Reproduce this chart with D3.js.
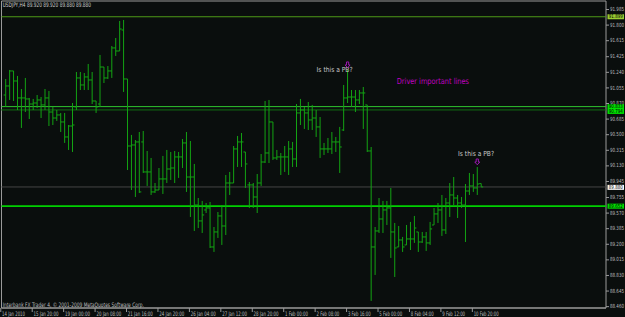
<html>
<head>
<meta charset="utf-8">
<title>USDJPY,H4</title>
<style>
  body { margin: 0; background: #0a0e0d; overflow: hidden; }
  text { font-family: "DejaVu Sans", "Liberation Sans", sans-serif; }
</style>
</head>
<body>
<script src="https://cdn.jsdelivr.net/npm/d3@7/dist/d3.min.js"></script>
<script>
// USDJPY H4 bars, 14 Jan 2010 16:00 .. 10 Feb 2010
var opens = [90.971,91.078,91.256,91.137,90.936,90.936,90.924,90.864,90.876,90.912,90.853,90.936,90.769,90.698,90.734,90.651,90.473,90.603,90.829,91.173,
  91.090,91.185,91.149,90.900,90.864,91.303,91.173,91.256,91.529,91.493,91.742,91.161,90.366,90.378,90.414,90.414,90.058,90.058,89.821,89.844,
  89.975,89.975,90.093,90.105,90.236,90.236,90.402,89.998,89.998,89.666,89.477,89.607,89.631,89.168,89.346,89.536,89.417,89.927,89.927,90.331,
  90.414,90.295,89.904,89.904,89.761,89.927,90.176,90.283,90.651,90.224,90.236,90.236,90.236,90.331,90.212,90.758,90.793,90.758,90.675,90.698,
  90.592,90.331,90.331,90.331,90.414,90.414,90.556,90.936,90.947,90.947,90.912,90.995,90.853,90.307,89.168,89.358,89.500,89.607,89.631,89.346,
  89.168,89.251,89.192,89.263,89.263,89.346,89.227,89.287,89.216,89.429,89.560,89.607,89.370,89.690,89.785,89.749,89.690,89.666,89.832,89.892,
  89.868,89.920];
var highs = [91.161,91.268,91.256,91.197,91.042,91.173,90.936,90.924,90.971,90.947,91.042,91.019,90.829,90.793,90.758,90.758,90.615,90.876,91.244,91.244,
  91.232,91.339,91.244,90.900,91.446,91.303,91.315,91.552,91.647,91.849,91.861,91.161,90.497,90.437,90.532,90.544,90.307,90.224,89.927,90.105,
  90.248,90.319,90.295,90.307,90.295,90.449,90.532,90.425,90.153,89.749,89.714,89.690,89.702,89.405,89.583,89.666,90.022,90.058,90.366,90.485,
  90.520,90.295,89.939,89.927,90.034,90.271,90.900,90.912,90.651,90.319,90.283,90.366,90.425,90.414,90.864,90.924,90.829,90.888,90.853,90.793,
  90.710,90.402,90.461,90.532,90.473,90.592,91.090,91.268,91.030,91.030,91.030,91.066,90.853,90.354,89.405,89.749,89.714,89.714,89.868,89.453,
  89.417,89.287,89.429,89.465,89.536,89.346,89.346,89.346,89.465,89.631,89.690,89.785,89.749,89.927,89.998,89.785,89.761,89.915,90.046,90.034,
  90.117,89.920];
var lows = [90.829,90.912,90.900,90.793,90.580,90.769,90.686,90.793,90.817,90.698,90.793,90.603,90.615,90.663,90.532,90.402,90.319,90.295,90.793,91.030,
  91.030,91.030,90.864,90.758,90.829,91.113,91.161,91.173,91.434,91.493,91.007,90.081,89.844,89.761,89.809,90.046,89.892,89.785,89.809,89.844,
  89.797,89.927,89.963,89.927,89.987,90.105,89.821,89.524,89.358,89.393,89.334,89.571,89.156,89.109,89.275,89.192,89.310,89.785,89.927,90.117,
  90.117,89.868,89.631,89.631,89.571,89.892,90.164,90.164,90.200,90.200,90.022,90.058,90.022,90.117,90.117,90.615,90.568,90.556,90.556,90.473,
  90.224,90.259,90.283,90.271,90.295,90.046,90.544,90.876,90.829,90.769,90.864,90.568,90.295,88.528,88.836,89.334,89.334,89.429,89.038,88.812,
  89.168,89.109,89.192,89.132,89.216,89.109,89.216,89.121,89.192,89.429,89.453,89.299,89.322,89.524,89.666,89.512,89.631,89.227,89.785,89.821,
  89.785,89.880];
var closes = [91.078,91.256,91.137,90.936,90.936,90.924,90.864,90.876,90.912,90.853,90.936,90.769,90.698,90.734,90.651,90.473,90.603,90.615,91.173,91.090,
  91.185,91.149,90.900,90.829,91.303,91.173,91.256,91.529,91.493,91.754,91.161,90.366,90.378,90.414,89.821,90.058,90.058,89.821,89.844,89.975,
  89.975,90.093,90.105,90.236,90.236,90.402,89.998,89.998,89.666,89.477,89.548,89.631,89.168,89.346,89.536,89.417,89.927,89.927,90.331,90.414,
  90.414,90.153,89.904,89.761,89.927,90.176,90.283,90.651,90.224,90.236,90.236,90.236,90.331,90.212,90.758,90.793,90.758,90.675,90.698,90.592,
  90.331,90.331,90.331,90.414,90.414,90.354,90.936,90.947,90.947,90.912,90.995,90.995,90.307,89.168,89.358,89.500,89.607,89.631,89.346,89.156,
  89.251,89.168,89.263,89.263,89.393,89.227,89.287,89.216,89.382,89.560,89.607,89.370,89.690,89.785,89.749,89.690,89.666,89.832,89.892,89.868,
  89.915,89.880];

var priceTicks = [91.985,91.800,91.615,91.425,91.240,91.055,90.870,90.685,90.500,90.315,90.130,89.945,89.755,89.570,89.385,89.200,89.015,88.830,88.645,88.460];
var timeLabels = ["14 Jan 2010","15 Jan 20:00","19 Jan 00:00","20 Jan 08:00","21 Jan 16:00","24 Jan 20:00","26 Jan 04:00","27 Jan 12:00",
  "28 Jan 20:00","1 Feb 00:00","2 Feb 08:00","3 Feb 16:00","5 Feb 00:00","8 Feb 04:00","9 Feb 12:00","10 Feb 20:00"];
var timeLabelBars = [-1,7,15,23,31,39,47,55,63,71,79,87,95,103,111,119];

// horizontal lines: level, kind
var levels = [91.899, 90.833, 90.794, 89.880, 89.652];
var levelKinds = ["olive", "lime", "limeDot", "bid", "bright"];

var notes = ["Is this a PB?", "Is this a PB?"];
var noteX = [83.7, 119.7];        // bar position of the text centre
var noteY = [91.244, 90.253];     // price of the text baseline
var arrowBars = [87, 120];
var header = "USDJPY,H4  89.920 89.920 89.880 89.880";

var width = 625, height = 317;
var plotL = 1.5, plotR = 606, plotT = 1, plotB = 308;

var svg = d3.select("body").append("svg")
    .attr("width", width)
    .attr("height", height);

svg.append("rect").attr("width", width).attr("height", height).attr("fill", "#0a0e0d");

var x = d3.scaleLinear().domain([0, opens.length - 1]).range([5.7, 481.2]);
var y = d3.scaleLinear().domain([88.444, 92.086]).range([plotB, plotT]);

// squeezed small text like the terminal font: width per character is given
function label(g, tx, ty, str, size, perChar, color, anchor) {
    var t = g.append("text")
        .attr("font-size", size + "px")
        .attr("fill", color)
        .attr("text-anchor", anchor || "start")
        .text(str);
    var k = str.length * perChar / t.node().getComputedTextLength();
    t.attr("transform", "translate(" + tx + "," + ty + ") scale(" + k.toFixed(3) + ",1)");
    return t;
}

// frame
svg.append("path")
    .attr("d", "M" + plotL + "," + plotB + "V" + plotT + "H" + plotR + "V" + plotB + "H" + plotL)
    .attr("fill", "none")
    .attr("stroke", "#9a9a9a")
    .attr("stroke-width", 1);

// horizontal lines
var lineStyle = {
    olive: { stroke: "#4e9a17", w: 1, dash: null, bg: "#9acd32", off: 0 },
    lime: { stroke: "#2fc62f", w: 1, dash: null, bg: "#00e000", off: 0 },
    limeDot: { stroke: "#127a12", w: 1.6, dash: "1,1", bg: "#00e000", off: 1.5 },
    bid: { stroke: "#454545", w: 1, dash: null, bg: "#ffffff", off: 0.4 },
    bright: { stroke: "#00d000", w: 1.6, dash: null, bg: "#00e000", off: 0 }
};
levels.forEach(function (lv, i) {
    var s = lineStyle[levelKinds[i]];
    svg.append("line")
        .attr("x1", plotL).attr("x2", plotR)
        .attr("y1", y(lv)).attr("y2", y(lv))
        .attr("stroke", s.stroke)
        .attr("stroke-width", s.w)
        .attr("stroke-dasharray", s.dash);
});

// bars
var bars = svg.append("g")
    .attr("stroke", "#13a313")
    .attr("stroke-width", 1)
    .attr("fill", "none");
bars.selectAll("path")
    .data(opens)
    .enter()
    .append("path")
    .attr("d", function (d, i) {
        var cx = x(i);
        return "M" + cx + "," + y(highs[i]) + "V" + y(lows[i]) +
            "M" + (cx - 2) + "," + y(opens[i]) + "H" + cx +
            "M" + cx + "," + y(closes[i]) + "H" + (cx + 2);
    });

// price axis
var axisG = svg.append("g");
priceTicks.forEach(function (p) {
    axisG.append("line")
        .attr("x1", plotR).attr("x2", plotR + 3)
        .attr("y1", y(p)).attr("y2", y(p))
        .attr("stroke", "#9a9a9a");
    label(axisG, plotR + 4, y(p) + 1.6, p.toFixed(3), 5.6, 2.33, "#bdbdbd");
});

// level labels on the axis
levels.forEach(function (lv, i) {
    var s = lineStyle[levelKinds[i]];
    var yy = y(lv) + s.off;
    axisG.append("rect")
        .attr("x", plotR + 1.5).attr("y", yy - 2.5)
        .attr("width", 16.5).attr("height", 5)
        .attr("fill", s.bg);
    label(axisG, plotR + 2.8, yy + 1.7, lv.toFixed(3), 5.4, 2.33, "#000");
});

// time axis
var timeG = svg.append("g");
svg.append("line")
    .attr("x1", plotL).attr("x2", plotR)
    .attr("y1", plotB).attr("y2", plotB)
    .attr("stroke", "#9a9a9a");
timeLabels.forEach(function (t, i) {
    var tx = x(timeLabelBars[i]) - 1;
    timeG.append("line")
        .attr("x1", tx).attr("x2", tx)
        .attr("y1", plotB).attr("y2", plotB + 4)
        .attr("stroke", "#9a9a9a");
    label(timeG, tx + 1.3, 315.5, t, 6.2, 2.08, "#bdbdbd");
});

// header and copyright
label(svg, 2.7, 7.4, header, 6.2, 2.32, "#d0d0d0");
label(svg, 2.7, 306.6, "Interbank FX Trader 4, \u00a9 2001-2009 MetaQuotes Software Corp.", 6.2, 2.35, "#bdbdbd");

// notes with arrows
notes.forEach(function (n, i) {
    label(svg, x(noteX[i]), y(noteY[i]), n, 7, 2.78, "#c8c8c8", "middle");
    var bx = x(arrowBars[i]);
    var hy = y(highs[arrowBars[i]]);
    svg.append("path")
        .attr("d", "M" + (bx - 1.1) + "," + (hy - 8) + "h2.2v3h1.4l-2.5,2.8l-2.5,-2.8h1.4z")
        .attr("fill", "none")
        .attr("stroke", "#a818c0")
        .attr("stroke-width", 0.9);
});

label(svg, 396.8, 84.4, "Driver important lines", 8.2, 3.28, "#c000c0");
</script>
</body>
</html>
